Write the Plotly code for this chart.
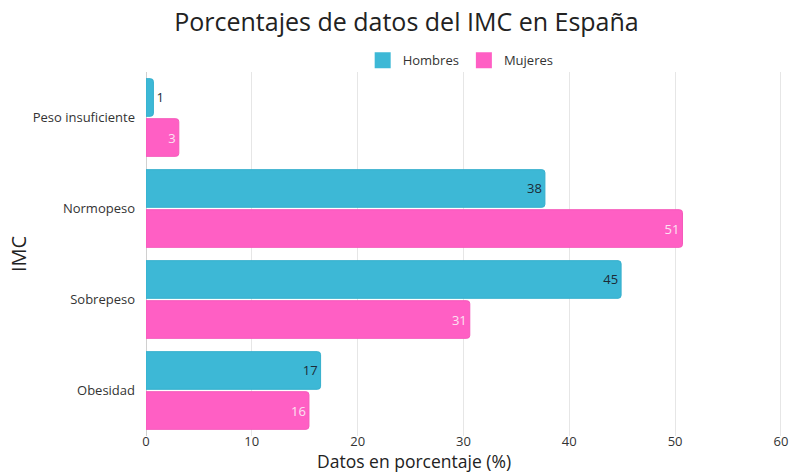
import plotly.graph_objects as go

categorias = ["Peso insuficiente", "Normopeso", "Sobrepeso", "Obesidad"]
hombres = [0.7, 37.7, 44.9, 16.5]
mujeres = [3.1, 50.7, 30.6, 15.4]
etiquetas_hombres = ["1", "38", "45", "17"]
etiquetas_mujeres = ["3", "51", "31", "16"]
ticks_x = [0, 10, 20, 30, 40, 50, 60]

COLOR_H = "#3db8d6"
COLOR_M = "#ff5fc4"
FONT = "Open Sans"

fig = go.Figure()
fig.add_trace(go.Bar(
    y=categorias, x=hombres, name="Hombres", orientation="h", showlegend=False,
    marker=dict(color=COLOR_H, line=dict(color="#35afcd", width=1), cornerradius=3),
    text=etiquetas_hombres, textposition="auto", insidetextanchor="end",
    insidetextfont=dict(color="#1c2b36", size=13, family=FONT),
    outsidetextfont=dict(color="#1c2b36", size=13, family=FONT),
    constraintext="none", hoverinfo="x+y",
))
fig.add_trace(go.Bar(
    y=categorias, x=mujeres, name="Mujeres", orientation="h", showlegend=False,
    marker=dict(color=COLOR_M, line=dict(color="#f558bb", width=1), cornerradius=3),
    text=etiquetas_mujeres, textposition="inside", insidetextanchor="end",
    insidetextfont=dict(color="#fbe3f2", size=13, family=FONT),
    constraintext="none", hoverinfo="x+y",
))
# legend entries with square swatches
for nombre, color in [("Hombres", COLOR_H), ("Mujeres", COLOR_M)]:
    fig.add_trace(go.Scatter(
        x=[None], y=[None], mode="markers", name=nombre,
        marker=dict(symbol="square", size=16, color=color),
    ))

fig.update_layout(
    width=793, height=473,
    paper_bgcolor="white", plot_bgcolor="white",
    font=dict(family=FONT, color="#333333", size=12),
    title=dict(text="Porcentajes de datos del IMC en España", x=0.5126, xanchor="center",
               y=0.953, yanchor="middle", font=dict(size=25, color="#222222", family=FONT)),
    legend=dict(orientation="h", x=0.494, xanchor="center", y=0.991, yanchor="bottom",
                font=dict(size=13, color="#333333"), traceorder="normal",
                itemwidth=30, bgcolor="rgba(0,0,0,0)"),
    barmode="group", bargap=0.12, bargroupgap=0.06,
    margin=dict(l=146, r=10, t=72, b=37),
    xaxis=dict(range=[0, 60.2], tickvals=ticks_x, showgrid=True, gridcolor="#e6e6e6",
               zeroline=True, zerolinecolor="#d0d0d0", zerolinewidth=1, automargin=False,
               tickfont=dict(size=13, color="#333333"), ticks="", ticklabelstandoff=-4),
    yaxis=dict(autorange="reversed", showgrid=False, ticks="", ticklabelstandoff=10, automargin=False,
               tickfont=dict(size=13, color="#333333"),
               title=dict(text="IMC", font=dict(size=20, color="#222222"), standoff=0)),
    annotations=[dict(text="Datos en porcentaje (%)", xref="paper", yref="paper",
                      x=0.42, y=-0.0687, xanchor="center", yanchor="middle", showarrow=False,
                      font=dict(size=17.5, color="#222222", family=FONT))],
)

fig.write_html("out.html", config={"displayModeBar": False},
               post_script="document.body.style.margin='0px';document.body.style.overflow='hidden';")
